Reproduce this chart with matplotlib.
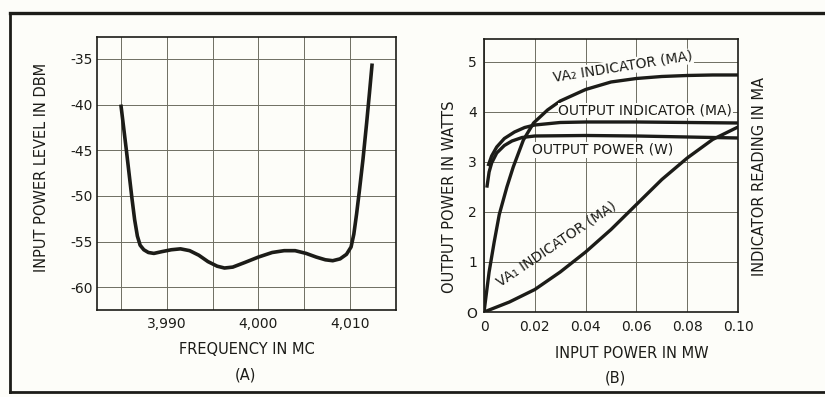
import matplotlib
matplotlib.use("Agg")
import matplotlib.pyplot as plt
from matplotlib.lines import Line2D

plt.rcParams['font.family'] = ['DejaVu Sans']

# ---- data: panel (A) input power vs frequency ----
freq_mc = [3985.0, 3985.3, 3985.6, 3985.9, 3986.2, 3986.5, 3986.8, 3987.1, 3987.5,
           3988.0, 3988.6, 3989.5, 3990.5, 3991.5, 3992.5, 3993.5, 3994.5, 3995.5,
           3996.3, 3997.2, 3998.5, 4000.0, 4001.5, 4002.8, 4004.0, 4005.2, 4006.3,
           4007.3, 4008.1, 4008.9, 4009.6, 4010.1, 4010.4, 4010.7, 4011.0, 4011.4,
           4011.8, 4012.1, 4012.4]
input_dbm = [-40.0, -42.5, -45.0, -47.6, -50.2, -52.6, -54.4, -55.4, -55.9,
             -56.2, -56.3, -56.1, -55.9, -55.8, -56.0, -56.5, -57.2, -57.7,
             -57.9, -57.8, -57.3, -56.7, -56.2, -56.0, -56.0, -56.3, -56.7,
             -57.0, -57.1, -56.9, -56.4, -55.6, -54.2, -52.0, -49.5, -46.0,
             -42.0, -38.8, -35.5]

freq_ticks = [3990, 4000, 4010]
freq_tick_labels = ["3,990", "4,000", "4,010"]
dbm_ticks = [-35, -40, -45, -50, -55, -60]
dbm_tick_labels = ["-35", "-40", "-45", "-50", "-55", "-60"]

# ---- data: panel (B) output vs input power ----
va2_x = [0.0, 0.001, 0.002, 0.004, 0.006, 0.009, 0.0115, 0.0155, 0.0195, 0.025,
         0.030, 0.040, 0.050, 0.060, 0.070, 0.080, 0.090, 0.100]
va2_y = [0.0, 0.4, 0.8, 1.4, 1.95, 2.5, 2.9, 3.44, 3.78, 4.04,
         4.22, 4.45, 4.6, 4.67, 4.71, 4.73, 4.74, 4.74]

out_ind_x = [0.0018, 0.003, 0.005, 0.008, 0.012, 0.016, 0.020, 0.030, 0.040,
             0.060, 0.080, 0.100]
out_ind_y = [2.95, 3.12, 3.30, 3.47, 3.60, 3.69, 3.74, 3.79, 3.80,
             3.80, 3.79, 3.78]

out_pow_x = [0.0012, 0.002, 0.003, 0.005, 0.008, 0.011, 0.015, 0.020, 0.040,
             0.060, 0.080, 0.100]
out_pow_y = [2.52, 2.80, 2.98, 3.18, 3.33, 3.42, 3.49, 3.52, 3.53,
             3.52, 3.50, 3.48]

va1_x = [0.0, 0.005, 0.010, 0.020, 0.030, 0.040, 0.050, 0.060, 0.070, 0.080,
         0.090, 0.100]
va1_y = [0.0, 0.1, 0.2, 0.45, 0.8, 1.2, 1.65, 2.15, 2.65, 3.08,
         3.45, 3.70]

in_mw_ticks = [0.0, 0.02, 0.04, 0.06, 0.08, 0.10]
in_mw_tick_labels = ["0", "0.02", "0.04", "0.06", "0.08", "0.10"]
watts_ticks = [0, 1, 2, 3, 4, 5]
watts_tick_labels = ["O", "1", "2", "3", "4", "5"]

ink = "#1c1c18"
grid_col = "#6e6e62"
bg = "#fdfdf9"

fig = plt.figure(figsize=(8.25, 3.97), dpi=100, facecolor=bg)

# ---------- panel A ----------
ax1 = fig.add_axes([0.1176, 0.2191, 0.3624, 0.6877], facecolor=bg)
ax1.plot(freq_mc, input_dbm, color=ink, lw=2.6, solid_capstyle="butt",
         solid_joinstyle="round", zorder=3)
ax1.set_xlim(3982.4, 4015.0)
ax1.set_ylim(-62.5, -32.6)
ax1.set_xticks(freq_ticks)
ax1.set_xticklabels(freq_tick_labels)
ax1.set_xticks([3985, 3995, 4005], minor=True)
ax1.set_yticks(dbm_ticks)
ax1.set_yticklabels(dbm_tick_labels)
ax1.grid(True, which="both", color=grid_col, lw=0.7)
ax1.tick_params(which="both", length=0, labelsize=10, colors=ink)
ax1.tick_params(axis="x", pad=5)
ax1.tick_params(axis="y", pad=3)
for s in ax1.spines.values():
    s.set_color(ink)
    s.set_linewidth(1.2)

# ---------- panel B ----------
ax2 = fig.add_axes([0.5867, 0.2141, 0.3079, 0.6877], facecolor=bg)
for xs, ys in [(va2_x, va2_y), (out_ind_x, out_ind_y), (out_pow_x, out_pow_y),
               (va1_x, va1_y)]:
    ax2.plot(xs, ys, color=ink, lw=2.4, solid_joinstyle="round", zorder=3)
ax2.set_xlim(0, 0.10)
ax2.set_ylim(0, 5.46)
ax2.set_xticks(in_mw_ticks)
ax2.set_xticklabels(in_mw_tick_labels)
ax2.set_yticks(watts_ticks)
ax2.set_yticklabels(watts_tick_labels)
ax2.grid(True, color=grid_col, lw=0.7)
ax2.tick_params(length=0, labelsize=10, colors=ink)
ax2.tick_params(axis="x", pad=6)
ax2.tick_params(axis="y", pad=5)
for s in ax2.spines.values():
    s.set_color(ink)
    s.set_linewidth(1.2)

box = dict(facecolor=bg, edgecolor="none", pad=0.6)
ax2.text(0.0545, 4.9, "VA₂ INDICATOR (MA)", rotation=9, ha="center", va="center",
         fontsize=10, color=ink, bbox=box, zorder=2)
ax2.text(0.0635, 4.03, "OUTPUT INDICATOR (MA)", ha="center", va="center",
         fontsize=10, color=ink, bbox=box, zorder=4)
ax2.text(0.0466, 3.24, "OUTPUT POWER (W)", ha="center", va="center",
         fontsize=10, color=ink, bbox=box, zorder=2)
ax2.text(0.0285, 1.36, "VA₁ INDICATOR (MA)", rotation=34, ha="center", va="center",
         fontsize=10, color=ink, zorder=4)

# ---------- axis titles ----------
title_fs = 10.5
fig.text(42 / 825, 1 - 167 / 397, "INPUT POWER LEVEL IN DBM", rotation=90,
         ha="center", va="center", fontsize=title_fs, color=ink)
fig.text(247 / 825, 1 - 350 / 397, "FREQUENCY IN MC", ha="center", va="center",
         fontsize=title_fs, color=ink)
fig.text(245 / 825, 1 - 375 / 397, "(A)", ha="center", va="center",
         fontsize=title_fs, color=ink)
fig.text(450 / 825, 1 - 197 / 397, "OUTPUT POWER IN WATTS", rotation=90,
         ha="center", va="center", fontsize=title_fs, color=ink)
fig.text(760 / 825, 1 - 177 / 397, "INDICATOR READING IN MA", rotation=90,
         ha="center", va="center", fontsize=title_fs, color=ink)
fig.text(632 / 825, 1 - 353 / 397, "INPUT POWER IN MW", ha="center", va="center",
         fontsize=title_fs, color=ink)
fig.text(615 / 825, 1 - 378 / 397, "(B)", ha="center", va="center",
         fontsize=title_fs, color=ink)

# ---------- outer frame (top, left, bottom) ----------
fx0, fy_top, fy_bot = 10 / 825, 1 - 13 / 397, 1 - 392 / 397
fig.add_artist(Line2D([fx0, 1.0], [fy_top, fy_top], color=ink, lw=2.4))
fig.add_artist(Line2D([fx0, fx0], [fy_bot, fy_top], color=ink, lw=2.0))
fig.add_artist(Line2D([fx0, 1.0], [fy_bot, fy_bot], color=ink, lw=2.0))

fig.savefig("out.png", dpi=100, facecolor=bg)
